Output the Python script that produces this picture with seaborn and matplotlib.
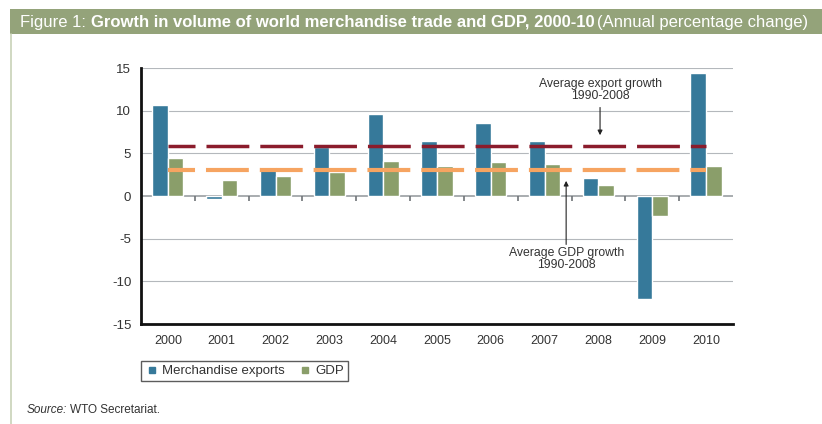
import numpy as np
import pandas as pd
import matplotlib.pyplot as plt
import seaborn as sns
from matplotlib.patches import Rectangle

# Data
years = ["2000", "2001", "2002", "2003", "2004", "2005", "2006", "2007", "2008", "2009", "2010"]
exports = [10.7, -0.35, 3.45, 5.7, 9.65, 6.5, 8.6, 6.5, 2.15, -12.1, 14.4]
gdp = [4.5, 1.9, 2.3, 2.8, 4.05, 3.5, 4.0, 3.8, 1.3, -2.4, 3.5]
avg_export = 5.9
avg_gdp = 3.0
series_names = ["Merchandise exports", "GDP"]
y_ticks = [-15, -10, -5, 0, 5, 10, 15]

col_export = "#36799a"
col_gdp = "#8a9e6a"
col_avg_export = "#8b1c2c"
col_avg_gdp = "#f6a461"

df = pd.DataFrame({
    "year": years * 2,
    "value": exports + gdp,
    "series": [series_names[0]] * len(years) + [series_names[1]] * len(years),
})

sns.set_style("white")
plt.rcParams["font.family"] = ["Liberation Sans", "DejaVu Sans"]
plt.rcParams["lines.scale_dashes"] = False

fig = plt.figure(figsize=(8.22, 4.24), dpi=100)
ax = fig.add_axes([0.1715, 0.2358, 0.7202, 0.6038])

# gridlines
for v in y_ticks:
    if v in (-15, 0):
        continue
    ax.axhline(v, color="#b4b8bc", lw=0.8, zorder=0)
ax.axhline(0, color="#9a9ea2", lw=1.2, zorder=0)

sns.barplot(data=df, x="year", y="value", hue="series",
            palette=[col_export, col_gdp], width=0.58, ax=ax,
            saturation=1, legend=False, zorder=2)

# average lines, dashed across the categories (one dash per category)
xs = np.arange(len(years))
dash = (11.4, (30.85, 7.9))
ax.plot(xs, [avg_export] * len(years), color=col_avg_export, lw=2.5,
        linestyle=dash, dash_capstyle="butt", zorder=3)
ax.plot(xs, [avg_gdp] * len(years), color=col_avg_gdp, lw=3.0,
        linestyle=dash, dash_capstyle="butt", zorder=3)

# small ticks on the zero line at category boundaries
bounds = np.arange(len(years) + 1) - 0.5
ax.vlines(bounds[1:-1], -0.6, 0, color="#707478", lw=1.2, zorder=1)

ax.set_xlim(-0.5, len(years) - 0.5)
ax.set_ylim(-15, 15)
ax.set_yticks(y_ticks)
ax.set_yticklabels([str(v) for v in y_ticks])
ax.set_xticks(bounds)
ax.set_xticklabels([])
ax.set_xticks(xs, minor=True)
ax.set_xticklabels(years, minor=True)
ax.tick_params(axis="x", which="major", length=5, width=1.8, direction="inout", color="#111111")
ax.tick_params(axis="x", which="minor", length=0, pad=8, labelsize=9, labelcolor="#333333")
ax.tick_params(axis="y", length=4, width=1.8, color="#111111", labelsize=9.5, labelcolor="#333333", pad=3)
ax.set_xlabel("")
ax.set_ylabel("")
for s in ["top", "right"]:
    ax.spines[s].set_visible(False)
for s in ["left", "bottom"]:
    ax.spines[s].set_linewidth(2)
    ax.spines[s].set_color("#111111")

# annotations
ax.annotate("", xy=(8.03, 6.8), xytext=(8.03, 10.7),
            arrowprops=dict(arrowstyle="-|>", color="#222222", lw=0.8, mutation_scale=7))
ax.text(8.03, 12.4, "Average export growth\n1990-2008", ha="center", va="center",
        fontsize=8.8, color="#333333", linespacing=1.0)
ax.annotate("", xy=(7.4, 2.1), xytext=(7.4, -6.0),
            arrowprops=dict(arrowstyle="-|>", color="#222222", lw=0.8, mutation_scale=7))
ax.text(7.4, -7.35, "Average GDP growth\n1990-2008", ha="center", va="center",
        fontsize=8.8, color="#333333", linespacing=1.0)

# legend
handles = [plt.Line2D([], [], marker="s", ls="", color=c, markersize=4.5)
           for c in [col_export, col_gdp]]
leg = fig.legend(handles, series_names, loc="upper left", bbox_to_anchor=(141 / 822, 1 - 361 / 424),
                 ncol=2, frameon=True, fontsize=9.5, handletextpad=0.3, columnspacing=1.0,
                 borderpad=0.3, handlelength=1.0, borderaxespad=0, fancybox=False)
leg.get_frame().set_edgecolor("#333333")
leg.get_frame().set_linewidth(1.0)
for t in leg.get_texts():
    t.set_color("#333333")

# title bar
fig.patches.append(Rectangle((10 / 822, 1 - 34 / 424), 1, 25 / 424, transform=fig.transFigure,
                             facecolor="#94a37a", edgecolor="none", zorder=0))
fig.add_artist(plt.Line2D([11 / 822, 11 / 822], [0, 1 - 34 / 424], transform=fig.transFigure,
                          color="#c8d2b8", lw=1.2))
title_y = 1 - 22 / 424
t1 = fig.text(20 / 822, title_y, "Figure 1: ", color="white", fontsize=12, va="center")
fig.canvas.draw()
r = fig.canvas.get_renderer()
bb = t1.get_window_extent(r)
t2 = fig.text(bb.x1 / 822, title_y, "Growth in volume of world merchandise trade and GDP, 2000-10",
              color="white", fontsize=12, va="center", fontweight="bold")
bb = t2.get_window_extent(r)
fig.text(bb.x1 / 822 + 3 / 822, title_y, "(Annual percentage change)", color="white", fontsize=12,
         va="center")

# source
s1 = fig.text(27 / 822, 1 - 410 / 424, "Source:", fontsize=8.5, style="italic", color="#333333", va="center")
bb = s1.get_window_extent(r)
fig.text(bb.x1 / 822 + 3 / 822, 1 - 410 / 424, "WTO Secretariat.", fontsize=8.5, color="#333333", va="center")

fig.savefig("out.png", dpi=100)
